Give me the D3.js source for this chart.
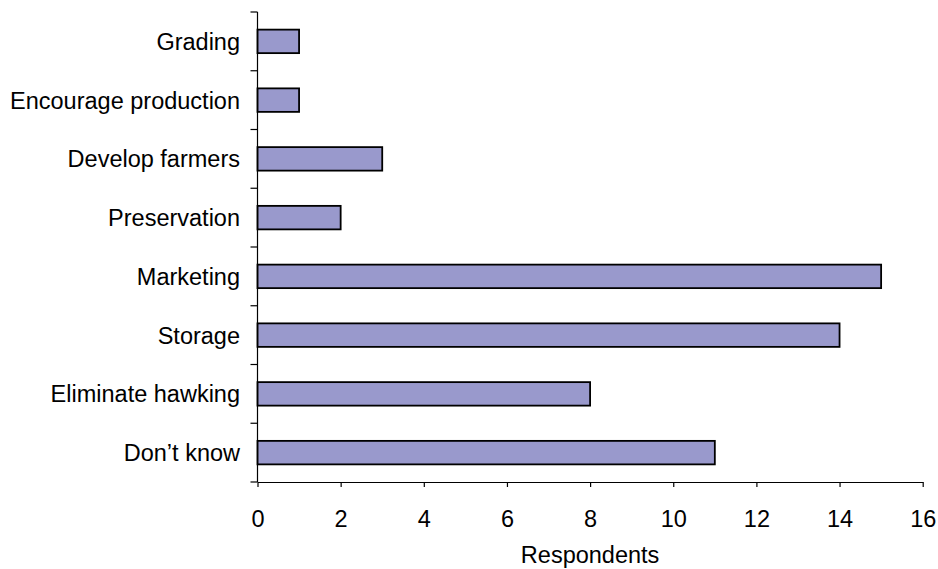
<!DOCTYPE html>
<html>
<head>
<meta charset="utf-8">
<script src="https://cdn.jsdelivr.net/npm/d3@7"></script>
<style>
  html, body { margin: 0; padding: 0; background: #fff; }
  svg { display: block; font-family: "Liberation Sans", Arial, sans-serif; }
</style>
</head>
<body>
<svg id="chart" width="938" height="569"></svg>
<script>
// Responses, listed top to bottom
const categories = ["Grading", "Encourage production", "Develop farmers", "Preservation",
                    "Marketing", "Storage", "Eliminate hawking", "Don\u2019t know"];
const respondents = [1, 1, 3, 2, 15, 14, 8, 11];
const xTicks = [0, 2, 4, 6, 8, 10, 12, 14, 16];
const xTitle = "Respondents";

const svg = d3.select("#chart");
const plotLeft = 257.5, plotRight = 922.7, plotTop = 12, plotBottom = 482;
const fontSize = 23.5;

const x = d3.scaleLinear().domain([0, 16]).range([plotLeft, plotRight]);
const y = d3.scaleBand().domain(categories).range([plotTop, plotBottom]).paddingInner(0.6).paddingOuter(0.3);
const band = d3.scaleLinear().domain([0, categories.length]).range([plotTop, plotBottom]);

// Bars
svg.append("g").selectAll("rect")
  .data(categories)
  .join("rect")
  .attr("x", x(0))
  .attr("y", d => y(d))
  .attr("width", (d, i) => x(respondents[i]) - x(0))
  .attr("height", y.bandwidth())
  .attr("fill", "#9999cc")
  .attr("stroke", "#000")
  .attr("stroke-width", 1.8);

// Category axis: line plus tick marks at band boundaries
const yAxis = svg.append("g");
yAxis.append("line")
  .attr("x1", plotLeft).attr("x2", plotLeft).attr("y1", plotTop).attr("y2", plotBottom)
  .attr("stroke", "#000").attr("stroke-width", 1.2);
yAxis.selectAll("line.tick")
  .data(d3.range(categories.length + 1))
  .join("line")
  .attr("class", "tick")
  .attr("x1", plotLeft - 7).attr("x2", plotLeft)
  .attr("y1", d => band(d)).attr("y2", d => band(d))
  .attr("stroke", "#000").attr("stroke-width", 1.2);
yAxis.selectAll("text")
  .data(categories)
  .join("text")
  .attr("x", 240)
  .attr("y", d => y(d) + y.bandwidth() / 2)
  .attr("dy", "0.36em")
  .attr("text-anchor", "end")
  .attr("font-size", fontSize)
  .attr("fill", "#000")
  .text(d => d);

// Value axis
const xAxis = svg.append("g")
  .attr("transform", `translate(0,${plotBottom})`)
  .call(d3.axisBottom(x).tickValues(xTicks).tickSize(5).tickSizeOuter(0).tickPadding(23));
xAxis.select(".domain").attr("stroke", "#000").attr("stroke-width", 1.2);
xAxis.selectAll(".tick line").attr("stroke", "#000").attr("stroke-width", 1.2);
xAxis.selectAll(".tick text")
  .attr("font-size", fontSize)
  .attr("font-family", "Liberation Sans, Arial, sans-serif")
  .attr("fill", "#000");

svg.append("text")
  .attr("x", (plotLeft + plotRight) / 2)
  .attr("y", 563)
  .attr("text-anchor", "middle")
  .attr("font-size", fontSize)
  .attr("fill", "#000")
  .text(xTitle);
</script>
</body>
</html>
